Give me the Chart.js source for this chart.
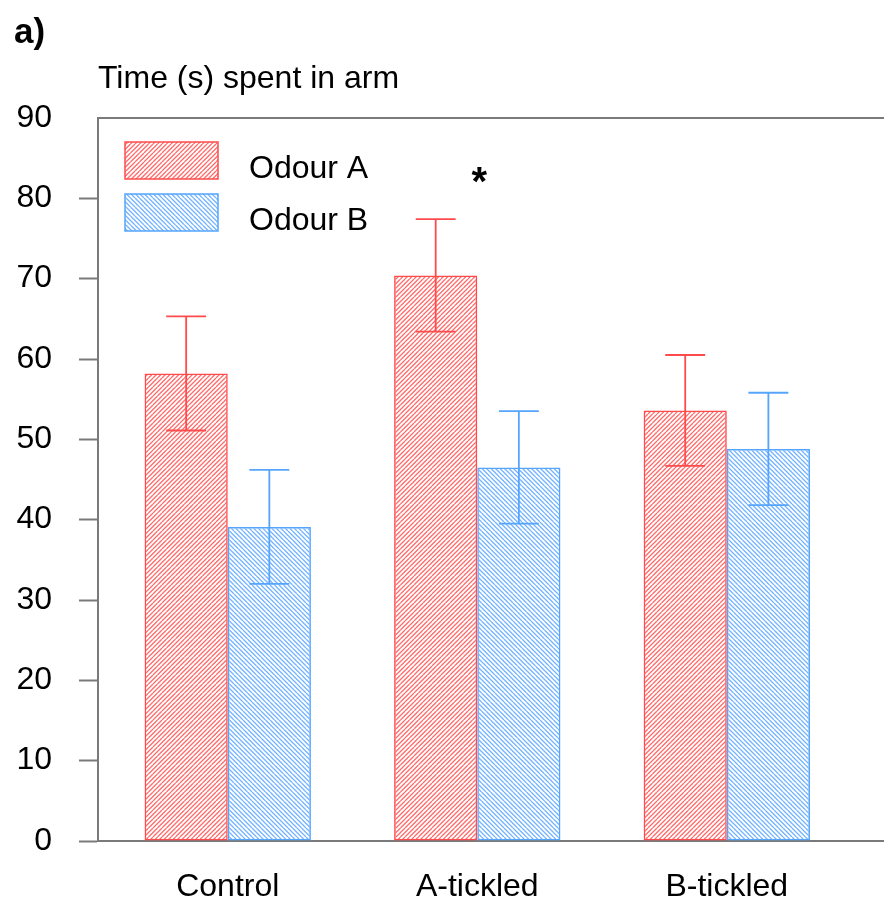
<!DOCTYPE html>
<html><head><meta charset="utf-8">
<script src="https://cdn.jsdelivr.net/npm/chart.js@4"></script>
<style>html,body{margin:0;padding:0;background:#fff;overflow:hidden}</style>
</head><body>
<canvas id="c" width="884" height="907"></canvas>
<script>
// ---- data ----
const categories = ['Control', 'A-tickled', 'B-tickled'];
const seriesNames = ['Odour A', 'Odour B'];
const odourA = [58.2, 70.4, 53.6];
const odourB = [39.1, 46.5, 48.8];
const errA = [7.1, 7.0, 6.9];
const errB = [7.1, 7.0, 7.0];
const sigMarks = ['', '*', ''];
const sigLevel = [null, 83, null];
const yTickValues = [0, 10, 20, 30, 40, 50, 60, 70, 80, 90];
const yTitle = 'Time (s) spent in arm';
const panelLabel = 'a)';

// ---- styling ----
const FONT = '"Liberation Sans", Arial, sans-serif';
const RED = 'rgb(255,75,75)';
const BLUE = 'rgb(85,165,255)';
const GRAY = '#7a7a7a';

function makeHatch(color, forward) {
  const T = 9, p = T / 2;
  const cv = document.createElement('canvas');
  cv.width = T; cv.height = T;
  const g = cv.getContext('2d');
  g.strokeStyle = color; g.lineWidth = 1.3;
  g.beginPath();
  for (let k = -3; k <= 3; k++) {
    if (forward) { g.moveTo(k * p, T); g.lineTo(k * p + T, 0); }
    else { g.moveTo(k * p, 0); g.lineTo(k * p + T, T); }
  }
  g.stroke();
  return g.createPattern(cv, 'repeat');
}
const ctx0 = document.getElementById('c').getContext('2d');
const hatchA = makeHatch('rgba(255,70,70,0.8)', true);
const hatchB = makeHatch('rgba(80,160,255,0.8)', false);

const catPos = categories.map((_, i) => 2 + 3 * i);
const toXY = arr => arr.map((v, i) => ({ x: catPos[i], y: v }));

const errorBars = {
  id: 'errorBars',
  afterDatasetsDraw(chart) {
    const { ctx, scales: { y } } = chart;
    const errs = [errA, errB];
    chart.data.datasets.forEach((ds, di) => {
      const meta = chart.getDatasetMeta(di);
      ctx.save();
      ctx.strokeStyle = ds.borderColor; ctx.lineWidth = 1.8;
      meta.data.forEach((bar, i) => {
        const v = ds.data[i].y, e = errs[di][i];
        const yt = y.getPixelForValue(v + e), yb = y.getPixelForValue(v - e);
        const cw = bar.width * 0.24;
        ctx.beginPath();
        ctx.moveTo(bar.x, yt); ctx.lineTo(bar.x, yb);
        ctx.moveTo(bar.x - cw, yt); ctx.lineTo(bar.x + cw, yt);
        ctx.moveTo(bar.x - cw, yb); ctx.lineTo(bar.x + cw, yb);
        ctx.stroke();
      });
      ctx.restore();
    });
    // significance marks
    ctx.save();
    ctx.fillStyle = '#000'; ctx.font = 'bold 40px ' + FONT;
    ctx.textAlign = 'center'; ctx.textBaseline = 'middle';
    sigMarks.forEach((m, i) => {
      if (!m) return;
      ctx.fillText(m, chart.scales.x.getPixelForValue(catPos[i]) + 2, y.getPixelForValue(sigLevel[i]) + 10);
    });
    ctx.restore();
  }
};

const decorations = {
  id: 'decorations',
  afterDraw(chart) {
    const { ctx, chartArea: ca } = chart;
    ctx.save();
    ctx.fillStyle = '#000';
    ctx.textAlign = 'left'; ctx.textBaseline = 'alphabetic';
    ctx.font = 'bold 35px ' + FONT;
    ctx.fillText(panelLabel, 14, 43);
    ctx.font = '32px ' + FONT;
    ctx.fillText(yTitle, ca.left, 88);
    // legend
    chart.data.datasets.forEach((ds, i) => {
      const bx = ca.left + 27, by = ca.top + 24 + i * 52, bw = 93, bh = 37;
      ctx.fillStyle = ds.backgroundColor;
      ctx.fillRect(bx, by, bw, bh);
      ctx.strokeStyle = ds.borderColor; ctx.lineWidth = 1.5;
      ctx.strokeRect(bx, by, bw, bh);
      ctx.fillStyle = '#000'; ctx.font = '32px ' + FONT;
      ctx.textBaseline = 'alphabetic';
      ctx.fillText(ds.label, bx + bw + 31, by + bh - 1);
    });
    ctx.restore();
  }
};

new Chart(ctx0, {
  type: 'bar',
  data: {
    datasets: [
      { label: seriesNames[0], data: toXY(odourA), backgroundColor: hatchA, borderColor: RED, borderWidth: 1.5, borderSkipped: false },
      { label: seriesNames[1], data: toXY(odourB), backgroundColor: hatchB, borderColor: BLUE, borderWidth: 1.5, borderSkipped: false }
    ]
  },
  options: {
    responsive: false, animation: false, devicePixelRatio: 1,
    layout: { padding: { top: 118, right: 0, bottom: 0, left: 0 } },
    barPercentage: 1, categoryPercentage: 2 / 3,
    plugins: { legend: { display: false }, tooltip: { enabled: false } },
    scales: {
      x: {
        type: 'linear', min: 0.44, max: 9.89, offset: false,
        afterBuildTicks: s => { s.ticks = catPos.map(v => ({ value: v })); },
        afterFit: s => { s.height = 66; },
        ticks: { autoSkip: false, maxRotation: 0, padding: 27, color: '#000', font: { family: FONT, size: 32 },
          callback: v => categories[catPos.indexOf(v)] },
        grid: { display: false, drawTicks: false, offset: false },
        border: { display: true, color: GRAY, width: 2 }
      },
      xTop: {
        type: 'linear', position: 'top', min: 0, max: 1, offset: false,
        afterFit: s => { s.height = 0; },
        ticks: { display: false }, grid: { display: false, drawTicks: false },
        border: { display: true, color: GRAY, width: 2 }
      },
      y: {
        min: 0, max: 90,
        afterBuildTicks: s => { s.ticks = yTickValues.map(v => ({ value: v })); },
        afterFit: s => { s.width = 98; },
        ticks: { padding: 27, color: '#000', font: { family: FONT, size: 32 } },
        grid: { drawOnChartArea: false, drawTicks: true, tickLength: 19, tickWidth: 2,
          tickColor: c => (c.tick && c.tick.value === 90) ? 'rgba(0,0,0,0)' : GRAY },
        border: { display: true, color: GRAY, width: 2 }
      }
    }
  },
  plugins: [errorBars, decorations]
});
</script>
</body></html>
